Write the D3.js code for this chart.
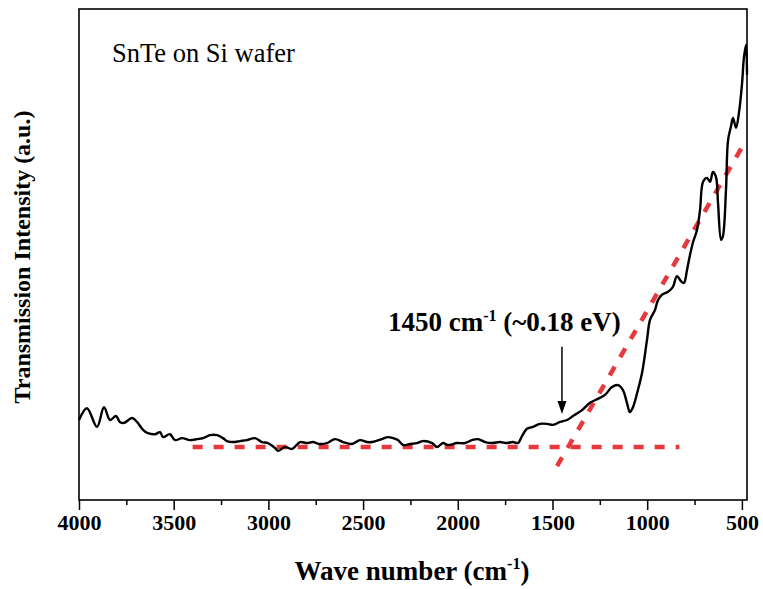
<!DOCTYPE html>
<meta charset="utf-8">
<script src="https://d3js.org/d3.v7.min.js"></script>
<style>
  body { margin: 0; background: #fff; }
  text { font-family: "Liberation Serif", "Times New Roman", serif; fill: #000; }
</style>
<div id="chart"></div>
<script>
  // FTIR transmission spectrum (a.u. scaled 0-100)
  var waveNumber = [4000, 3958, 3905, 3868, 3836, 3805, 3784, 3762, 3720, 3694, 3662, 3636, 3599, 3572, 3556, 3520,
    3493, 3456, 3414, 3377, 3345, 3308, 3271, 3240, 3219, 3187, 3150, 3113, 3071, 3034, 3002, 2965, 2949, 2912,
    2875, 2833, 2796, 2765, 2728, 2691, 2648, 2606, 2559, 2516, 2479, 2453, 2400, 2369, 2342, 2316, 2289, 2252,
    2215, 2184, 2136, 2110, 2078, 2052, 2004, 1962, 1925, 1893, 1856, 1819, 1777, 1740, 1709, 1682, 1661, 1635,
    1603, 1566, 1529, 1497, 1460, 1423, 1392, 1344, 1302, 1260, 1223, 1186, 1154, 1128, 1107, 1091, 1075, 1049,
    1027, 1001, 985, 959, 943, 922, 890, 864, 843, 822, 806, 790, 774, 758, 737, 721, 705, 684, 668, 653, 637,
    626, 610, 600, 584, 573, 558, 547, 531, 515, 499, 489, 478, 473];
  var intensity = [16.3, 18.7, 14.9, 18.9, 16.3, 17.1, 15.9, 15.7, 16.7, 15.9, 14.3, 13.6, 13.4, 13.8, 12.8, 13.4,
    12.2, 12.6, 12.2, 12.4, 12.6, 13.2, 13.2, 12.6, 12.0, 11.8, 12.0, 12.2, 12.6, 11.8, 11.6, 10.6, 10.0, 10.8,
    10.4, 11.8, 11.6, 11.8, 11.4, 11.6, 12.4, 11.8, 11.4, 12.2, 11.8, 11.8, 12.4, 12.8, 12.6, 12.2, 11.2, 11.4,
    11.6, 12.0, 11.6, 10.8, 11.6, 11.2, 11.6, 11.6, 12.2, 12.4, 11.8, 11.6, 11.8, 11.6, 11.8, 11.6, 13.0, 14.5,
    14.9, 15.5, 15.5, 15.3, 15.9, 16.3, 17.1, 18.3, 19.8, 20.6, 21.4, 23.0, 23.4, 22.4, 19.8, 17.9, 18.9, 22.4,
    25.9, 32.6, 36.7, 38.7, 40.7, 41.8, 42.4, 43.4, 45.6, 44.6, 44.2, 46.8, 49.9, 52.5, 55.0, 59.1, 64.8, 65.6,
    64.8, 66.8, 65.8, 60.5, 53.0, 53.8, 63.1, 73.3, 76.0, 77.8, 75.8, 79.0, 84.9, 90.2, 92.7, 86.6];

  var majorTicks = [4000, 3500, 3000, 2500, 2000, 1500, 1000, 500];
  var minorTicks = [3750, 3250, 2750, 2250, 1750, 1250, 750];

  // red dashed guide lines: flat baseline and the absorption-edge slope
  var baseX = [3400, 830], baseY = [10.8, 10.8];
  var fitX = [1476, 484], fitY = [6.9, 72.9];
  // arrow marking the edge
  var edgeX = 1450, arrowY = [31.2, 17.5];

  var margin = { top: 9, right: 16, bottom: 89, left: 79 },
    width = 763 - margin.left - margin.right,
    height = 589 - margin.top - margin.bottom;

  var svg = d3.select("#chart")
    .append("svg")
    .attr("width", 763)
    .attr("height", 589);

  var g = svg.append("g")
    .attr("transform", "translate(" + margin.left + "," + margin.top + ")");

  var x = d3.scaleLinear().domain([4000, 473]).range([0, width]);
  var y = d3.scaleLinear().domain([0, 100]).range([height, 0]);

  // minor ticks
  g.append("g")
    .attr("transform", "translate(0," + height + ")")
    .call(d3.axisBottom(x).tickValues(minorTicks).tickSize(5).tickFormat(""))
    .call(function (s) { s.select(".domain").remove(); })
    .selectAll("line").attr("stroke-width", 1.5);

  // major ticks + labels
  var xa = g.append("g")
    .attr("transform", "translate(0," + height + ")")
    .call(d3.axisBottom(x).tickValues(majorTicks).tickSize(10).tickPadding(4).tickFormat(d3.format("d")));
  xa.select(".domain").remove();
  xa.selectAll("line").attr("stroke-width", 1.5);
  xa.selectAll("text")
    .attr("font-family", "'Liberation Serif', serif")
    .attr("font-size", 22)
    .attr("font-weight", "bold")
    .attr("fill", "#000");

  // frame
  g.append("rect")
    .attr("width", width)
    .attr("height", height)
    .attr("fill", "none")
    .attr("stroke", "#000")
    .attr("stroke-width", 1.6);

  // guide lines
  var guide = d3.line()
    .x(function (d) { return x(d[0]); })
    .y(function (d) { return y(d[1]); });

  g.append("path")
    .datum(d3.zip(baseX, baseY))
    .attr("d", guide)
    .attr("fill", "none")
    .attr("stroke", "#e8383d")
    .attr("stroke-width", 4.5)
    .attr("stroke-dasharray", "10,11");

  g.append("path")
    .datum(d3.zip(fitX, fitY))
    .attr("d", guide)
    .attr("fill", "none")
    .attr("stroke", "#e8383d")
    .attr("stroke-width", 4.5)
    .attr("stroke-dasharray", "10,11");

  // spectrum
  var line = d3.line()
    .x(function (d) { return x(d[0]); })
    .y(function (d) { return y(d[1]); })
    .curve(d3.curveCatmullRom);

  g.append("path")
    .datum(d3.zip(waveNumber, intensity))
    .attr("d", line)
    .attr("fill", "none")
    .attr("stroke", "#000")
    .attr("stroke-width", 2.4)
    .attr("stroke-linejoin", "round");

  // arrow
  g.append("line")
    .attr("x1", x(edgeX)).attr("x2", x(edgeX))
    .attr("y1", y(arrowY[0])).attr("y2", y(arrowY[1]) - 10)
    .attr("stroke", "#000")
    .attr("stroke-width", 1.5);
  g.append("path")
    .attr("d", "M" + (x(edgeX) - 4.5) + "," + (y(arrowY[1]) - 13) +
      "L" + (x(edgeX) + 4.5) + "," + (y(arrowY[1]) - 13) +
      "L" + x(edgeX) + "," + y(arrowY[1]) + "Z")
    .attr("fill", "#000");

  // annotation
  var ann = g.append("text")
    .attr("x", 309)
    .attr("y", 322)
    .attr("font-size", 27)
    .attr("font-weight", "bold");
  ann.append("tspan").text("1450 cm");
  ann.append("tspan").attr("dy", -10).attr("font-size", 16).text("-1");
  ann.append("tspan").attr("dy", 10).text(" (~0.18 eV)");

  // sample label
  g.append("text")
    .attr("x", 33)
    .attr("y", 53)
    .attr("font-size", 26.5)
    .text("SnTe on Si wafer");

  // axis titles
  var xt = svg.append("text")
    .attr("x", 412)
    .attr("y", 580)
    .attr("text-anchor", "middle")
    .attr("font-size", 27)
    .attr("font-weight", "bold");
  xt.append("tspan").text("Wave number (cm");
  xt.append("tspan").attr("dy", -11).attr("font-size", 16).text("-1");
  xt.append("tspan").attr("dy", 11).text(")");

  svg.append("text")
    .attr("transform", "translate(30,257) rotate(-90)")
    .attr("text-anchor", "middle")
    .attr("font-size", 24)
    .attr("font-weight", "bold")
    .text("Transmission Intensity (a.u.)");
</script>
